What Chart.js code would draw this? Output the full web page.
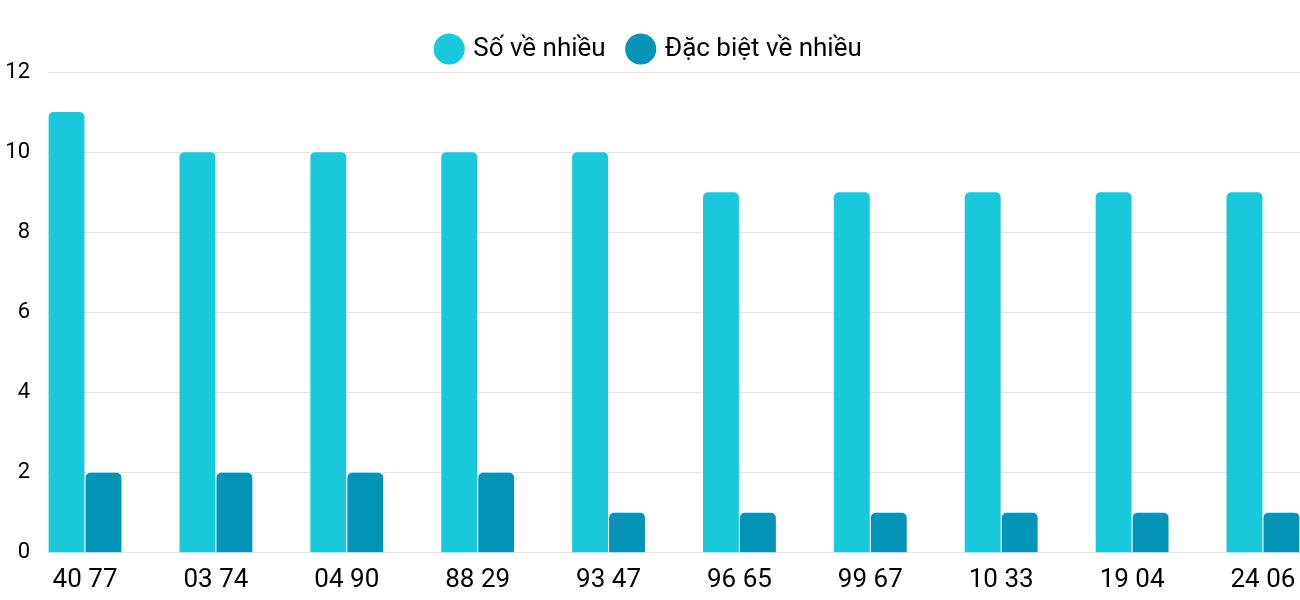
<!DOCTYPE html>
<html>
<head>
<meta charset="utf-8">
<script src="https://cdn.jsdelivr.net/npm/chart.js@4"></script>
<style>
  body { margin: 0; background: #fff; }
  #wrap { width: 1300px; height: 600px; }
</style>
</head>
<body>
<div id="wrap"><canvas id="lotoChart"></canvas></div>
<script>
// Data for the chart
const categories = ['40 77', '03 74', '04 90', '88 29', '93 47', '96 65', '99 67', '10 33', '19 04', '24 06'];
const soVeNhieu = [11, 10, 10, 10, 10, 9, 9, 9, 9, 9];
const dacBietVeNhieu = [2, 2, 2, 2, 1, 1, 1, 1, 1, 1];
const yTicks = [0, 2, 4, 6, 8, 10, 12];

const toPoints = arr => arr.map((v, i) => ({ x: i, y: v }));

const ctx = document.getElementById('lotoChart').getContext('2d');

const lotoChart = new Chart(ctx, {
    type: 'bar',
    data: {
        datasets: [{
            label: 'Số về nhiều',
            backgroundColor: '#1ac8db',
            borderRadius: { topLeft: 5, topRight: 5 },
            borderSkipped: 'bottom',
            data: toPoints(soVeNhieu),
        }, {
            label: 'Đặc biệt về nhiều',
            backgroundColor: '#0394b7',
            borderRadius: { topLeft: 5, topRight: 5 },
            borderSkipped: 'bottom',
            data: toPoints(dacBietVeNhieu),
        }]
    },
    options: {
        responsive: true,
        maintainAspectRatio: false,
        animation: false,
        categoryPercentage: 0.565,
        barPercentage: 0.97,
        layout: { padding: { top: 12, right: 0, bottom: 0, left: 0 } },
        scales: {
            x: {
                type: 'linear',
                offset: false,
                min: -0.283,
                max: 9.283,
                afterBuildTicks: axis => { axis.ticks = categories.map((_, i) => ({ value: i })); },
                ticks: {
                    autoSkip: false,
                    maxRotation: 0,
                    color: '#000',
                    font: { family: 'Roboto', size: 26 },
                    padding: 4,
                    callback: value => categories[value]
                },
                grid: { display: false },
                border: { display: false }
            },
            y: {
                min: 0,
                max: 12,
                afterBuildTicks: axis => { axis.ticks = yTicks.map(v => ({ value: v })); },
                afterFit: axis => { axis.width = 48; },
                ticks: {
                    color: '#000',
                    font: { family: 'Roboto', size: 22 },
                    padding: 18
                },
                grid: { color: '#e6e6e6', drawTicks: false },
                border: { display: false }
            }
        },
        plugins: {
            legend: {
                labels: {
                    usePointStyle: true,
                    pointStyle: 'circle',
                    boxWidth: 22,
                    boxHeight: 22,
                    padding: 24,
                    color: '#000',
                    font: { family: 'Roboto', size: 26 }
                }
            },
            tooltip: { enabled: false }
        }
    }
});
</script>
</body>
</html>
